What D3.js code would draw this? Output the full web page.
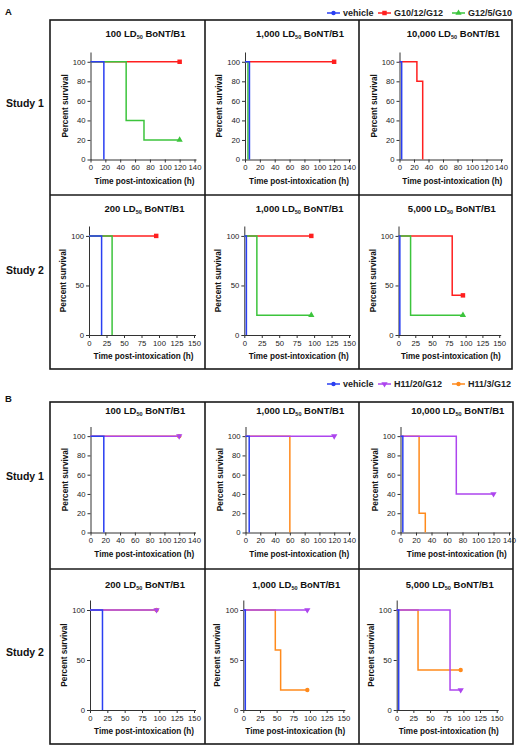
<!DOCTYPE html>
<html><head><meta charset="utf-8">
<script src="https://cdn.jsdelivr.net/npm/d3@7/dist/d3.min.js"></script>
<style>
body{margin:0;background:#fff}
svg{display:block;font-family:"Liberation Sans",Arial,Helvetica,sans-serif}
</style>
</head><body>
<svg id="chart" width="518" height="750"></svg>
<script>
// ---------------- DATA ----------------
const panelLetters = ["A", "B"];
const studyLabels = ["Study 1", "Study 2"];
const dosesStudy1 = ["100", "1,000", "10,000"];
const dosesStudy2 = ["200", "1,000", "5,000"];
const seriesNamesA = ["vehicle", "G10/12/G12", "G12/5/G10"];
const seriesNamesB = ["vehicle", "H11/20/G12", "H11/3/G12"];
const xTicksStudy1 = [0, 20, 40, 60, 80, 100, 120, 140];
const xTicksStudy2 = [0, 25, 50, 75, 100, 125, 150];
const yTicksStudy1 = [0, 20, 40, 60, 80, 100];
const yTicksStudy2 = [0, 50, 100];

// Step points [time (h), percent survival], one entry per dose panel
const A1_vehicle = [[[0,100],[18,0]], [[0,100],[6,0]], [[0,100],[3,0]]];
const A1_G10 = [[[0,100],[120,100]], [[0,100],[120,100]], [[0,100],[24,80],[32,0]]];
const A1_G12 = [[[0,100],[48,40],[72,20],[120,20]], [[0,100],[4,0]], []];
const A2_vehicle = [[[0,100],[18,0]], [[0,100],[3,0]], [[0,100],[2,0]]];
const A2_G10 = [[[0,100],[96,100]], [[0,100],[96,100]], [[0,100],[80,40],[96,40]]];
const A2_G12 = [[[0,100],[33,0]], [[0,100],[18,20],[96,20]], [[0,100],[18,20],[96,20]]];

const B1_vehicle = [[[0,100],[18,0]], [[0,100],[5,0]], [[0,100],[3,0]]];
const B1_H11_20 = [[[0,100],[120,100]], [[0,100],[120,100]], [[0,100],[72,40],[120,40]]];
const B1_H11_3 = [[[0,100],[120,100]], [[0,100],[60,0]], [[0,100],[24,20],[32,0]]];
const B2_vehicle = [[[0,100],[18,0]], [[0,100],[3,0]], [[0,100],[3,0]]];
const B2_H11_20 = [[[0,100],[96,100]], [[0,100],[96,100]], [[0,100],[80,20],[96,20]]];
const B2_H11_3 = [[[0,100],[96,100]], [[0,100],[48,60],[56,20],[96,20]], [[0,100],[32,40],[96,40]]];

// ---------------- STYLE ----------------
const colors = {
  vehicle: "#2a3ff2",
  "G10/12/G12": "#ff1f1f",
  "G12/5/G10": "#3cc43c",
  "H11/20/G12": "#ad45ee",
  "H11/3/G12": "#ff8a1c"
};
const markers = {
  vehicle: "circle",
  "G10/12/G12": "square",
  "G12/5/G10": "triangle",
  "H11/20/G12": "down",
  "H11/3/G12": "circle"
};

const svg = d3.select("#chart");
const FONT = "'Liberation Sans', Arial, sans-serif";

function markerPath(type) {
  if (type === "square") return d3.symbol(d3.symbolSquare, 20)();
  if (type === "triangle" || type === "down") return d3.symbol(d3.symbolTriangle, 17)();
  return d3.symbol(d3.symbolCircle, 15)();
}
function drawMarker(g, type, x, y, color) {
  g.append("path")
    .attr("d", markerPath(type))
    .attr("transform", `translate(${x},${y})` + (type === "down" ? " rotate(180)" : ""))
    .attr("fill", color);
}

// ---------------- LAYOUT ----------------
const rows = [
  { group: 0, study: 0, doses: dosesStudy1, xmax: 140, xticks: xTicksStudy1, yticks: yTicksStudy1,
    y0: 159.5, yTop: 52, titleY: 36.5, studyY: 103,
    cols: [[90.5, 104], [245, 104], [399.5, 101.5]],
    series: [["G10/12/G12", A1_G10], ["G12/5/G10", A1_G12], ["vehicle", A1_vehicle]] },
  { group: 0, study: 1, doses: dosesStudy2, xmax: 150, xticks: xTicksStudy2, yticks: yTicksStudy2,
    y0: 335, yTop: 226, titleY: 211.5, studyY: 270,
    cols: [[89, 105], [244.3, 104.7], [398.5, 100.7]],
    series: [["G10/12/G12", A2_G10], ["G12/5/G10", A2_G12], ["vehicle", A2_vehicle]] },
  { group: 1, study: 0, doses: dosesStudy1, xmax: 140, xticks: xTicksStudy1, yticks: yTicksStudy1,
    y0: 532.5, yTop: 426.5, titleY: 413.5, studyY: 476,
    cols: [[90.5, 103.5], [245.5, 103.5], [400.5, 108.5]],
    series: [["H11/3/G12", B1_H11_3], ["H11/20/G12", B1_H11_20], ["vehicle", B1_vehicle]] },
  { group: 1, study: 1, doses: dosesStudy2, xmax: 150, xticks: xTicksStudy2, yticks: yTicksStudy2,
    y0: 710, yTop: 600, titleY: 587.5, studyY: 652,
    cols: [[90, 104], [243.3, 100], [396.7, 100]],
    series: [["H11/3/G12", B2_H11_3], ["H11/20/G12", B2_H11_20], ["vehicle", B2_vehicle]] }
];

// boxes
const boxes = [
  { x1: 50, x2: 512, y1: 20, y2: 369, vx: [205, 359], hy: 195 },
  { x1: 50, x2: 513, y1: 402, y2: 744, vx: [205, 359], hy: 569 }
];
boxes.forEach(b => {
  svg.append("rect").attr("x", b.x1).attr("y", b.y1).attr("width", b.x2 - b.x1).attr("height", b.y2 - b.y1)
    .attr("fill", "none").attr("stroke", "#1a1a1a").attr("stroke-width", 1.6);
  b.vx.forEach(x => svg.append("line").attr("x1", x).attr("x2", x).attr("y1", b.y1).attr("y2", b.y2)
    .attr("stroke", "#1a1a1a").attr("stroke-width", 1.6));
  svg.append("line").attr("x1", b.x1).attr("x2", b.x2).attr("y1", b.hy).attr("y2", b.hy)
    .attr("stroke", "#1a1a1a").attr("stroke-width", 1.6);
});

// panel letters
[[5, 15], [5, 402]].forEach((p, i) => {
  svg.append("text").attr("x", p[0]).attr("y", p[1]).text(panelLetters[i])
    .attr("font-size", 9.5).attr("font-weight", "bold").attr("fill", "#111");
});

// legends
[[13, seriesNamesA], [384, seriesNamesB]].forEach(([ly, names]) => {
  const lx = [327, 378, 452];
  names.forEach((n, i) => {
    const g = svg.append("g");
    g.append("line").attr("x1", lx[i]).attr("x2", lx[i] + 13).attr("y1", ly).attr("y2", ly)
      .attr("stroke", colors[n]).attr("stroke-width", 1.5);
    drawMarker(g, markers[n], lx[i] + 6.5, ly, colors[n]);
    g.append("text").attr("x", lx[i] + 16).attr("y", ly + 3.2).text(n)
      .attr("font-size", 9).attr("font-weight", "bold").attr("fill", "#222");
  });
});

// panels
rows.forEach(row => {
  svg.append("text").attr("x", 25).attr("y", row.studyY + 3.5).attr("text-anchor", "middle")
    .text(studyLabels[row.study]).attr("font-size", 10.5).attr("font-weight", "bold").attr("fill", "#111");

  row.cols.forEach(([x0, w], ci) => {
    const x = d3.scaleLinear().domain([0, row.xmax]).range([x0, x0 + w]);
    const y = d3.scaleLinear().domain([0, 110]).range([row.y0, row.yTop]);
    const g = svg.append("g");

    // title
    const t = g.append("text").attr("x", x0 + w / 2 + 3).attr("y", row.titleY).attr("text-anchor", "middle")
      .attr("font-size", 9.5).attr("font-weight", "bold").attr("fill", "#111");
    t.append("tspan").text(row.doses[ci] + " LD");
    t.append("tspan").text("50").attr("font-size", 5.5).attr("dy", 2.5);
    t.append("tspan").text(" BoNT/B1").attr("dy", -2.5);

    // axes
    const xa = g.append("g").attr("transform", `translate(0,${row.y0})`)
      .call(d3.axisBottom(x).tickValues(row.xticks).tickSize(3).tickPadding(2.5).tickSizeOuter(0));
    xa.select(".domain").attr("d", `M${x0},0.5H${x0 + w + 2}`);
    const ya = g.append("g").attr("transform", `translate(${x0},0)`)
      .call(d3.axisLeft(y).tickValues(row.yticks).tickSize(3).tickPadding(2).tickSizeOuter(0));
    [xa, ya].forEach(a => {
      a.selectAll("text").attr("font-size", 7.7).attr("font-family", FONT).attr("fill", "#222");
      a.selectAll("line").attr("stroke", "#333");
      a.select(".domain").attr("stroke", "#333").attr("stroke-width", 1);
    });

    g.append("text").attr("x", x0 + w / 2 + 2).attr("y", row.y0 + 24).attr("text-anchor", "middle")
      .text("Time post-intoxication (h)").attr("font-size", 8.2).attr("font-weight", "bold").attr("fill", "#111");
    g.append("text").attr("transform", `translate(${x0 - 23},${(row.y0 + row.yTop) / 2}) rotate(-90)`)
      .attr("text-anchor", "middle").text("Percent survival")
      .attr("font-size", 8.2).attr("font-weight", "bold").attr("fill", "#111");

    const line = d3.line().x(d => x(d[0])).y(d => y(d[1])).curve(d3.curveStepAfter);
    row.series.forEach(([name, arr]) => {
      const pts = arr[ci];
      if (!pts.length) return;
      g.append("path").attr("d", line(pts)).attr("fill", "none")
        .attr("stroke", colors[name]).attr("stroke-width", 1.5);
    });
    row.series.forEach(([name, arr]) => {
      const pts = arr[ci];
      if (!pts.length) return;
      const last = pts[pts.length - 1];
      if (last[1] > 0 && name !== "vehicle") drawMarker(g, markers[name], x(last[0]), y(last[1]), colors[name]);
    });
  });
});
</script>
</body></html>
